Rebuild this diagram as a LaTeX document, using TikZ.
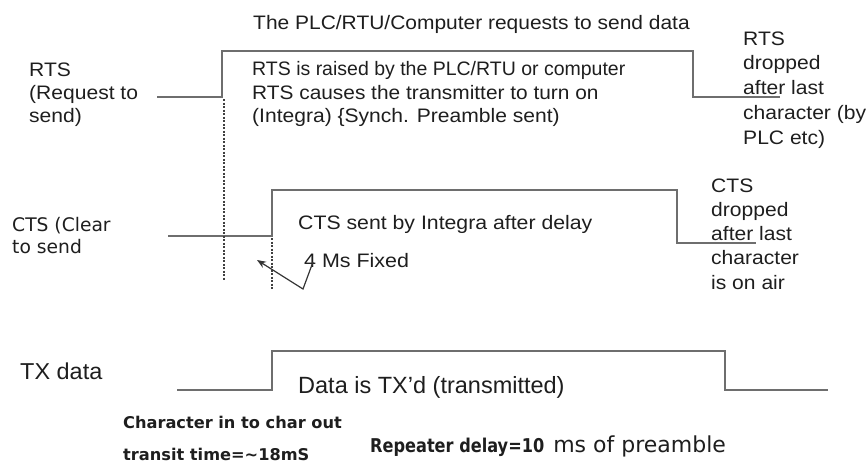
\documentclass[tikz,border=0pt]{standalone}
\usepackage{fontspec}
\usepackage{graphicx}
\setmainfont{Liberation Sans}
\newfontfamily\dvs{DejaVu Sans}
\usetikzlibrary{arrows.meta}
\definecolor{wave}{HTML}{6E6E6E}
\definecolor{ink}{HTML}{1E1E1E}
\newcommand{\hs}[2]{\scalebox{#1}[1]{#2}}
\newcommand{\fs}[1]{\fontsize{#1}{#1}\selectfont}
\begin{document}
\begin{tikzpicture}[x=1pt,y=-1pt,
  wavel/.style={draw=wave,line width=1.4pt},
  guide/.style={draw=ink!85,line width=1.2pt,dash pattern=on 2pt off 1.5pt},
  lbl/.style={anchor=base west,inner sep=0pt,text=ink,font=\fs{19.5}},
  dv/.style={anchor=base west,inner sep=0pt,text=ink,font=\dvs\fs{18.7}},
  note/.style={anchor=base west,inner sep=0pt,text=ink,font=\dvs\bfseries\fs{16.2}}]
\useasboundingbox (0,0) rectangle (868,464);
% waveforms
\draw[wavel] (157,97) -- (222,97) -- (222,51) -- (693,51) -- (693,97) -- (780,97);
\draw[wavel] (168,236) -- (272,236) -- (272,190) -- (677,190) -- (677,243) -- (756,243);
\draw[wavel] (177,390) -- (272,390) -- (272,351) -- (725,351) -- (725,390) -- (828,390);
% guides
\draw[guide] (224,99) -- (224,280);
\draw[guide] (272,238) -- (272,290);
% texts
\node[lbl] (title) at (253,29) {\hs{1.075}{The PLC/RTU/Computer requests to send data}};
\node[lbl] (t1) at (252,75) {\hs{1.0}{RTS is raised by the PLC/RTU or computer}};
\node[lbl] (t2) at (252,99) {\hs{1.07}{RTS causes the transmitter to turn on}};
\node[lbl] (t3) at (252,122) {\hs{1.08}{(Integra) \{Synch. Preamble sent)}};
\node[lbl] (r1) at (29,76) {\hs{1.08}{RTS}};
\node[lbl] (r2) at (29,99) {\hs{1.08}{(Request to}};
\node[lbl] (r3) at (29,122) {\hs{1.08}{send)}};
\node[dv] (c1) at (12,231) {CTS (Clear};
\node[dv] (c2) at (12,253) {to send};
\node[lbl] (ctsx) at (298,229) {\hs{1.09}{CTS sent by Integra after delay}};
\node[lbl] (fix) at (304,267) {\hs{1.1}{4 Ms Fixed}};
\node[lbl] (rd1) at (743,45) {\hs{1.08}{RTS}};
\node[lbl] (rd2) at (743,69) {\hs{1.08}{dropped}};
\node[lbl] (rd3) at (743,94) {\hs{1.08}{after last}};
\node[lbl] (rd4) at (743,119) {\hs{1.08}{character (by}};
\node[lbl] (rd5) at (743,144) {\hs{1.08}{PLC etc)}};
\node[lbl] (cd1) at (711,192) {\hs{1.08}{CTS}};
\node[lbl] (cd2) at (711,216) {\hs{1.08}{dropped}};
\node[lbl] (cd3) at (711,240) {\hs{1.08}{after last}};
\node[lbl] (cd4) at (711,264) {\hs{1.08}{character}};
\node[lbl] (cd5) at (711,289) {\hs{1.08}{is on air}};
\node[lbl,font=\fs{23}] (tx) at (20,379) {\hs{1.02}{TX data}};
\node[lbl,font=\fs{23.5}] (txd) at (298,393) {Data is TX’d (transmitted)};
\node[note] (n1) at (123,428) {Character in to char out};
\node[note] (n2) at (123,460) {transit time=\textasciitilde18mS};
\node[note,font=\dvs\bfseries\fs{19}] (n3) at (370,452) {\hs{0.85}{Repeater delay=10}\hspace{9pt}\hs{1.0}{\mdseries\fs{22}ms of preamble}};
% arrow
\coordinate (a0) at (313,262);
\coordinate (a1) at (303,289);
\coordinate (a2) at (257,260);
\draw[draw=ink!90,line width=1.2pt,-{Stealth[length=9pt,width=7pt]}] (a0) -- (a1) -- (a2);
\end{tikzpicture}
\end{document}
